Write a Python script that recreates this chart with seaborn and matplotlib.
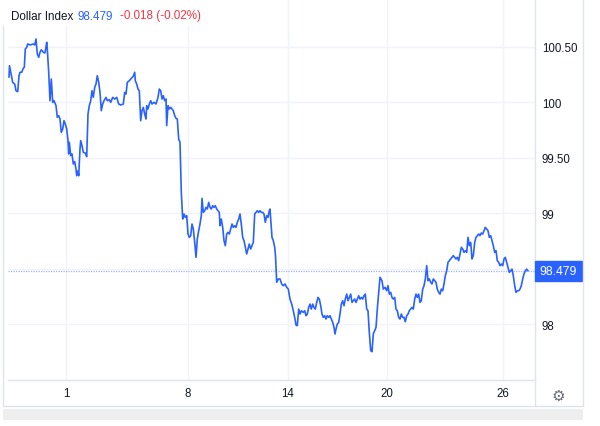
import matplotlib.pyplot as plt
import pandas as pd
import seaborn as sns
from matplotlib.lines import Line2D
from matplotlib.patches import Rectangle

# session position (arbitrary trading-time units) and index level
session_pos = [
    9.0, 9.5, 12.7, 14.7, 16.0, 17.7, 19.0, 20.0, 21.7, 23.3,
    24.3, 25.3, 26.7, 27.7, 30.0, 33.3, 34.7, 36.0, 37.3, 38.7,
    40.0, 41.3, 43.3, 45.0, 46.7, 47.3, 48.7, 50.0, 51.3, 52.7,
    54.0, 56.0, 57.3, 58.7, 60.0, 61.3, 62.7, 64.0, 65.3, 66.7,
    68.0, 68.7, 69.3, 70.7, 72.0, 73.3, 74.7, 76.0, 76.7, 78.0,
    78.7, 80.0, 80.7, 82.0, 83.3, 85.3, 86.7, 88.0, 89.3, 90.7,
    92.0, 93.3, 94.7, 96.0, 97.3, 98.7, 100.0, 101.3, 102.7, 104.0,
    106.0, 107.3, 109.3, 110.7, 112.7, 114.7, 116.7, 118.7, 120.7, 123.3,
    124.7, 126.0, 127.3, 129.3, 131.3, 133.3, 134.7, 135.3, 136.7, 138.0,
    139.3, 140.7, 142.0, 143.3, 144.7, 146.0, 146.7, 148.0, 149.3, 150.7,
    152.0, 154.0, 156.0, 158.0, 159.3, 160.7, 162.0, 163.3, 164.7, 166.0,
    166.7, 168.0, 169.3, 170.7, 172.0, 173.3, 174.7, 176.0, 177.3, 178.7,
    180.0, 181.3, 182.7, 184.0, 185.3, 186.7, 188.0, 189.3, 190.7, 192.0,
    193.3, 194.7, 196.0, 197.3, 198.7, 200.0, 201.3, 202.0, 203.3, 204.7,
    206.0, 207.3, 208.7, 210.0, 211.3, 212.7, 214.0, 215.3, 216.7, 218.0,
    219.3, 220.0, 221.3, 222.7, 224.0, 225.3, 226.7, 228.0, 229.3, 230.7,
    232.0, 233.3, 234.7, 236.0, 237.3, 238.7, 240.0, 241.3, 242.7, 244.0,
    245.3, 246.7, 248.0, 249.3, 250.7, 252.0, 253.3, 254.7, 256.0, 257.3,
    258.7, 260.0, 261.3, 262.7, 264.0, 265.3, 266.7, 268.0, 269.3, 270.0,
    270.7, 272.0, 273.3, 274.7, 275.5, 276.7, 278.3, 280.0, 281.7, 283.3,
    285.0, 286.7, 288.3, 290.0, 291.7, 293.3, 295.0, 296.0, 297.3, 298.7,
    300.0, 301.3, 303.3, 304.7, 306.0, 307.3, 308.7, 310.0, 311.3, 312.7,
    314.0, 315.3, 316.7, 318.0, 319.3, 320.7, 322.0, 323.3, 324.7, 326.0,
    327.3, 328.7, 330.0, 331.3, 332.7, 334.0, 335.0, 336.0, 337.3, 338.7,
    340.0, 341.3, 342.7, 344.0, 345.3, 346.7, 348.0, 349.3, 350.7, 352.0,
    353.3, 354.7, 356.0, 357.3, 358.7, 360.0, 361.3, 362.7, 364.0, 365.3,
    366.7, 368.0, 369.3, 370.7, 372.0, 373.3, 374.7, 376.0, 377.3, 378.7,
    380.0, 382.0, 383.3, 385.0, 386.7, 388.0, 389.3, 390.7, 392.0, 393.3,
    394.7, 396.0, 397.3, 398.7, 400.0, 401.3, 402.7, 404.0, 405.3, 406.7,
    408.0, 409.3, 410.7, 412.0, 413.3, 414.7, 416.0, 417.3, 418.7, 420.0,
    421.3, 422.7, 424.0, 425.3, 426.7, 428.0, 429.3, 430.7, 432.0, 433.3,
    434.7, 436.0, 437.3, 438.7, 440.0, 441.3, 442.7, 444.0, 445.3, 446.7,
    448.0, 449.3, 450.7, 452.0, 453.3, 454.7, 456.0, 457.3, 458.7, 460.0,
    461.3, 462.7, 464.0, 465.3, 466.7, 468.0, 469.3, 470.7, 472.0, 473.3,
    474.7, 476.0, 477.3, 478.7, 480.0, 481.3, 482.7, 484.0, 485.3, 486.7,
    488.0, 489.3, 490.7, 492.0, 493.3, 494.7, 496.0, 497.3, 498.7, 500.0,
    501.3, 502.7, 504.0, 505.3, 506.7, 508.0, 509.3, 510.7, 512.0, 513.3,
    514.7, 516.0, 517.3, 518.7, 520.0, 521.3, 522.7, 524.0, 525.3, 526.7, 528.0,
]
index_level = [
    100.223, 100.327, 100.177, 100.162, 100.102, 100.093, 100.237, 100.268, 100.268, 100.304,
    100.313, 100.478, 100.493, 100.523, 100.514, 100.523, 100.514, 100.568, 100.433, 100.403,
    100.448, 100.471, 100.448, 100.442, 100.538, 100.478, 100.268, 100.012, 100.207, 99.997,
    100.012, 99.967, 99.862, 99.877, 99.847, 99.727, 99.757, 99.832, 99.802, 99.757,
    99.652, 99.532, 99.637, 99.517, 99.532, 99.442, 99.463, 99.397, 99.336, 99.381,
    99.336, 99.577, 99.652, 99.607, 99.547, 99.541, 99.508, 99.892, 99.967, 100.012,
    100.102, 100.042, 100.132, 100.162, 100.237, 100.177, 100.087, 99.922, 99.982, 100.012,
    100.042, 100.012, 100.021, 99.997, 100.042, 100.027, 100.042, 99.982, 99.973, 99.982,
    100.087, 100.072, 100.177, 100.192, 100.213, 100.232, 100.268, 100.192, 100.162, 100.117,
    100.102, 99.832, 99.922, 99.952, 99.892, 99.847, 99.967, 99.937, 99.982, 100.012,
    99.982, 99.997, 99.982, 100.042, 100.117, 100.102, 100.027, 100.057, 100.012, 100.027,
    99.787, 99.967, 99.937, 99.952, 99.937, 99.922, 99.877, 99.853, 99.847, 99.667,
    99.637, 99.187, 98.946, 98.991, 98.961, 98.976, 98.811, 98.781, 98.796, 98.901,
    98.856, 98.736, 98.601, 98.766, 98.841, 98.901, 98.976, 99.132, 99.006, 99.021,
    99.051, 99.036, 99.096, 99.051, 99.036, 99.066, 99.051, 99.066, 99.036, 99.021,
    99.006, 98.886, 98.946, 98.871, 98.751, 98.706, 98.811, 98.826, 98.811, 98.856,
    98.901, 98.871, 98.886, 98.871, 98.916, 98.946, 98.991, 98.901, 98.781, 98.751,
    98.691, 98.631, 98.676, 98.721, 98.676, 98.706, 98.736, 98.991, 99.006, 99.021,
    99.006, 99.021, 99.006, 99.006, 98.991, 98.916, 98.976, 98.961, 99.021, 99.036,
    98.946, 98.781, 98.751, 98.691, 98.616, 98.376, 98.406, 98.406, 98.361, 98.345,
    98.361, 98.331, 98.315, 98.225, 98.180, 98.120, 98.045, 97.991, 97.985, 98.135,
    98.090, 98.120, 98.105, 98.120, 98.075, 98.090, 98.150, 98.180, 98.135, 98.180,
    98.150, 98.135, 98.195, 98.240, 98.225, 98.165, 98.090, 98.060, 98.075, 98.045,
    98.075, 98.060, 98.075, 98.045, 98.015, 97.970, 97.910, 97.955, 98.000, 98.015,
    98.090, 98.180, 98.210, 98.165, 98.225, 98.270, 98.210, 98.240, 98.270, 98.195,
    98.210, 98.225, 98.195, 98.225, 98.255, 98.225, 98.240, 98.225, 98.255, 98.270,
    98.135, 98.120, 97.925, 97.760, 97.751, 97.910, 97.940, 97.970, 98.135, 98.285,
    98.421, 98.390, 98.315, 98.331, 98.300, 98.345, 98.270, 98.285, 98.240, 98.225,
    98.240, 98.135, 98.120, 98.060, 98.045, 98.090, 98.060, 98.060, 98.021, 98.075,
    98.090, 98.120, 98.135, 98.150, 98.135, 98.225, 98.270, 98.240, 98.270, 98.195,
    98.210, 98.315, 98.345, 98.406, 98.526, 98.390, 98.406, 98.376, 98.361, 98.406,
    98.390, 98.376, 98.315, 98.285, 98.270, 98.315, 98.300, 98.361, 98.435, 98.480,
    98.556, 98.571, 98.586, 98.601, 98.616, 98.601, 98.586, 98.601, 98.571, 98.631,
    98.691, 98.676, 98.646, 98.661, 98.646, 98.781, 98.706, 98.736, 98.586, 98.616,
    98.736, 98.781, 98.796, 98.811, 98.796, 98.820, 98.811, 98.841, 98.871, 98.856,
    98.841, 98.781, 98.796, 98.751, 98.706, 98.646, 98.661, 98.571, 98.556, 98.526,
    98.541, 98.526, 98.586, 98.601, 98.556, 98.511, 98.466, 98.480, 98.495, 98.435,
    98.345, 98.285, 98.300, 98.300, 98.315, 98.345, 98.406, 98.451, 98.480, 98.495, 98.479,
]

day_tick_pos = [66, 187.5, 287.5, 386.5, 503.3]
day_tick_labels = ["1", "8", "14", "20", "26"]
level_ticks = [98, 98.5, 99, 99.5, 100, 100.5]
level_tick_labels = ["98", "", "99", "99.50", "100", "100.50"]

last_price = 98.479
change_text = "-0.018 (-0.02%)"

LINE_BLUE = "#2962ff"
GRID = "#f0f3fa"
FRAME = "#e0e3eb"
TEXT = "#131722"

sns.set_theme(style="white")
plt.rcParams["font.family"] = ["Liberation Sans", "DejaVu Sans"]

W, H = 600, 427
fig = plt.figure(figsize=(W / 100, H / 100), dpi=100)
fig.patch.set_facecolor("white")

left, right, top, bottom = 8, 535, 0, 381
ax = fig.add_axes([left / W, 1 - bottom / H, (right - left) / W, (bottom - top) / H])

df = pd.DataFrame({"pos": session_pos, "level": index_level})
sns.lineplot(data=df, x="pos", y="level", ax=ax, color=LINE_BLUE, linewidth=1.2,
             estimator=None, sort=False)

ax.set_xlim(8, 535)
ax.set_ylim(97.496, 100.928)

ax.set_xticks(day_tick_pos)
ax.set_xticklabels(day_tick_labels)
ax.set_yticks(level_ticks)
ax.set_yticklabels(level_tick_labels)
ax.yaxis.tick_right()
ax.tick_params(axis="both", length=0, labelsize=8.3, labelcolor=TEXT)
ax.tick_params(axis="y", pad=5)
ax.tick_params(axis="x", pad=5)
for lab in ax.get_yticklabels():
    lab.set_horizontalalignment("left")
ax.set_xlabel("")
ax.set_ylabel("")

ax.grid(True, color=GRID, linewidth=1)
for side in ["top", "left"]:
    ax.spines[side].set_visible(False)
ax.spines["bottom"].set_color(FRAME)
ax.spines["right"].set_color(FRAME)
ax.spines["bottom"].set_linewidth(1)
ax.spines["right"].set_linewidth(1)

# last price line and tag
ax.axhline(last_price, color=LINE_BLUE, linestyle=(0, (1, 1)), linewidth=0.9, alpha=0.45)
tag_h = 0.18
ax.add_patch(Rectangle((1.0, last_price - tag_h / 2), 47 / (right - left), tag_h,
                       transform=ax.get_yaxis_transform(), color=LINE_BLUE,
                       clip_on=False, zorder=5))
ax.text(1.0 + 23.5 / (right - left), last_price, f"{last_price:.3f}",
        transform=ax.get_yaxis_transform(), color="white", fontsize=8.7,
        ha="center", va="center", clip_on=False, zorder=6)


def fx(px):
    return px / W


def fy(py):
    return 1 - py / H


# header background hides the grid behind the legend text
fig.add_artist(Rectangle((fx(0), fy(27)), fx(212), 27 / H, color="white", linewidth=0,
                         zorder=3))

# outer panel frame
for x0, y0, x1, y1 in [(3, 22, 3, 407), (583, 0, 583, 407), (3, 407, 583, 407),
                       (535, 381, 535, 407)]:
    fig.add_artist(Line2D([fx(x0), fx(x1)], [fy(y0), fy(y1)], color=FRAME, linewidth=1))
fig.add_artist(Rectangle((fx(3), fy(421)), fx(583) - fx(3), 11 / H,
                         color="#eeeeee", linewidth=0))

# header
fig.text(fx(11), fy(19.5), "Dollar Index", color=TEXT, fontsize=8.4, va="baseline", zorder=4)
fig.text(fx(77), fy(19.5), f"{last_price:.3f}", color=LINE_BLUE, fontsize=8.4,
         va="baseline", zorder=4)
fig.text(fx(120), fy(19.5), change_text, color="#f23645", fontsize=8.4, va="baseline",
         zorder=4)

# settings icon
fig.text(fx(558), fy(396), "\u2699", color="#6a6d78", fontsize=11, ha="center", va="center",
         family=["DejaVu Sans"])

fig.savefig("out.png", dpi=100)
